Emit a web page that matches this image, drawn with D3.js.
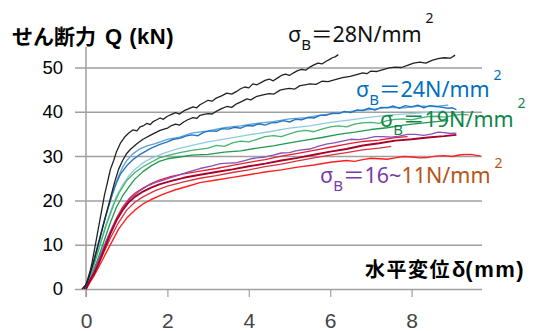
<!DOCTYPE html>
<html><head><meta charset="utf-8">
<script src="https://cdn.jsdelivr.net/npm/d3@7"></script>
<style>body{margin:0;background:#fff}svg{display:block}</style>
</head><body>
<svg id="c" width="537" height="331"></svg>
<script>
const xTicks=[0,2,4,6,8];
const yTicks=[0,10,20,30,40,50];
const yTitleParts=["せん断力","Q (kN)"];
const xTitleParts=["水平変位","δ","(mm)"];

const k1=[[-0.1,0],[0,1],[0.05,2.5],[0.1,4],[0.15,6],[0.2,8.5],[0.25,11],[0.3,13.5],[0.35,16],[0.4,18.5],[0.45,21],[0.5,23],[0.55,25],[0.6,27],[0.68,29],[0.75,31],[0.85,33],[0.95,34.3],[1.05,35.2],[1.15,35.9],[1.25,35.7],[1.33,36.6],[1.42,36.9],[1.5,37.4],[1.58,37.1],[1.65,37.8],[1.74,38.2],[1.82,38.6],[1.9,38.3],[2.0,39],[2.1,39.4],[2.2,39.8],[2.3,39.5],[2.4,40.2],[2.5,40.6],[2.63,41.1],[2.72,40.9],[2.8,41.6],[2.9,42.1],[3.0,42.6],[3.1,42.4],[3.2,43.1],[3.33,43.6],[3.46,44.2],[3.58,44.0],[3.7,44.6],[3.8,45.2],[3.9,45.6],[4.0,45.4],[4.1,46.3],[4.2,46.1],[4.3,46.6],[4.4,47.1],[4.5,47.4],[4.6,47.0],[4.7,47.6],[4.8,48.2],[4.9,48.5],[5.0,48.2],[5.1,48.8],[5.2,49.3],[5.3,49.6],[5.4,49.4],[5.5,50.1],[5.6,50.6],[5.7,51],[5.8,50.8],[5.9,51.4],[6.0,51.9],[6.05,52.2],[6.12,52.4],[6.2,52.9]];
const k2=[[-0.05,0],[0.05,2],[0.1,3.5],[0.2,6.5],[0.3,10],[0.4,13.5],[0.5,17],[0.6,20.5],[0.7,24],[0.8,27],[0.9,29],[1.0,30.6],[1.1,31.6],[1.25,32.8],[1.4,33.8],[1.6,34.8],[1.82,35.8],[2.0,36.3],[2.1,36.9],[2.2,37.2],[2.3,37.0],[2.4,37.7],[2.5,38.2],[2.63,38.7],[2.72,38.5],[2.8,39.2],[2.9,39.4],[3.0,39.6],[3.1,39.5],[3.2,40.1],[3.33,40.7],[3.46,41.2],[3.58,41.0],[3.7,41.8],[3.82,42.3],[3.95,42.9],[4.05,42.7],[4.2,43.5],[4.35,43.8],[4.5,44.1],[4.62,44.0],[4.77,44.9],[4.88,45.1],[5.0,45.3],[5.12,45.1],[5.26,45.9],[5.38,46.1],[5.5,46.3],[5.65,46.2],[5.8,46.9],[5.95,46.8],[6.1,47.2],[6.3,47.7],[6.49,48],[6.65,48.4],[6.8,48.8],[6.9,48.6],[7.0,49.2],[7.15,49.1],[7.3,49.5],[7.45,49.9],[7.6,50.1],[7.75,50.0],[7.9,50.5],[8.05,51.0],[8.2,51.2],[8.35,51.0],[8.5,51.6],[8.65,52.0],[8.8,52.2],[8.95,52.1],[9.07,52.8]];
const b1=[[-0.05,0],[0.05,2],[0.15,5],[0.25,8.5],[0.35,12],[0.45,15.5],[0.55,18.5],[0.65,21.5],[0.75,24],[0.85,26],[1.0,27.8],[1.15,29.2],[1.3,30.2],[1.45,31],[1.6,31.8],[1.8,32.6],[2.0,33.2],[2.15,33.8],[2.3,34],[2.45,34.5],[2.6,34.8],[2.75,34.6],[2.9,35.4],[3.05,35.7],[3.2,35.6],[3.35,36.2],[3.5,36.1],[3.65,36.5],[3.8,36.3],[3.95,36.9],[4.1,36.8],[4.25,37.3],[4.4,37],[4.55,37.5],[4.7,37.6],[4.85,38.0],[5.0,37.7],[5.15,38.3],[5.3,38.2],[5.45,38.7],[5.6,38.6],[5.75,39.2],[5.9,39.2],[6.05,39.7],[6.2,39.6],[6.35,40.1],[6.5,39.8],[6.65,40.4],[6.8,40.3],[6.95,40.8],[7.1,40.4],[7.25,41.0],[7.4,40.9],[7.55,41.3],[7.7,40.8],[7.85,41.4],[8.0,41.1],[8.15,41.5],[8.3,40.9],[8.45,41.4],[8.6,41.2],[8.75,41.0],[8.9,40.8],[9.0,40.9],[9.1,40.5]];
const b2=[[0,0],[0.1,3],[0.2,6.5],[0.3,10],[0.4,13.5],[0.5,17],[0.6,20],[0.7,23],[0.8,25.5],[0.9,27.5],[1.0,29],[1.15,30.5],[1.3,31.5],[1.5,32.3],[1.7,32.8],[2.0,33.8],[2.3,34.3],[2.6,35.2],[3.0,35.7],[3.4,36.4],[3.8,36.8],[4.2,37.4],[4.6,37.8],[5.0,38.4],[5.4,38.7],[5.8,39.3],[6.2,39.7],[6.6,40.2],[7.0,40.5],[7.4,41],[7.8,40.9],[8.2,41.3],[8.6,41.2],[8.9,41.5]];
const c1=[[0,0],[0.15,4],[0.3,9],[0.45,13.5],[0.6,17.5],[0.75,21],[0.9,23.5],[1.05,25.5],[1.2,27],[1.4,28.5],[1.6,29.5],[1.9,30.6],[2.2,31.5],[2.6,32.4],[3.0,33.2],[3.5,34],[4.0,34.8],[4.5,35.5],[5.0,36.3],[5.5,36.8],[6.0,37.6],[6.5,38.2],[7.0,38.8],[7.5,39.3],[8.0,39.6],[8.5,40],[8.8,40.2]];
const g1=[[0,0],[0.1,2.5],[0.2,5.5],[0.3,8.5],[0.4,11.5],[0.5,14.5],[0.6,17],[0.7,19.5],[0.8,21.5],[0.9,23],[1.0,24.5],[1.2,26.3],[1.4,27.6],[1.6,28.6],[1.8,29.6],[2.0,30.1],[2.3,30.8],[2.6,31.3],[3.0,31.8],[3.2,32.4],[3.4,32.2],[3.6,33.0],[3.8,33.4],[4.0,33.2],[4.2,33.8],[4.4,34.4],[4.6,34.6],[4.8,34.4],[5.0,35],[5.2,35.6],[5.4,35.8],[5.6,35.5],[5.8,36.1],[6.0,36.6],[6.2,36.8],[6.4,36.6],[6.6,37.2],[6.8,37.5],[7.0,37.6],[7.2,37.4],[7.4,38],[7.6,38.3],[7.8,38.4],[8.0,38.2],[8.2,38.6],[8.4,38.9],[8.6,39],[8.8,38.8],[9.0,39.1],[9.2,39.4],[9.4,39.3]];
const g2=[[0,0],[0.1,2],[0.2,4.5],[0.3,7],[0.45,11],[0.6,15],[0.75,18.5],[0.9,21],[1.05,23],[1.2,24.8],[1.4,26.5],[1.6,27.8],[1.8,28.8],[2.0,29.4],[2.3,29.8],[2.6,30.2],[3.0,30.4],[3.4,30.9],[3.8,31.2],[4.2,31.8],[4.6,32.3],[5.0,33],[5.4,33.6],[5.8,34.2],[6.2,34.9],[6.6,35.4],[7.0,36],[7.4,36.4],[7.8,37],[8.2,37.4],[8.6,37.8],[8.9,38]];
const p1=[[0,0],[0.1,2],[0.2,4],[0.35,7.5],[0.5,11],[0.65,14],[0.8,16.5],[0.95,18.8],[1.1,20.5],[1.3,22],[1.5,23.2],[1.7,24],[1.9,24.6],[2.2,25.5],[2.5,26.4],[2.8,27.2],[3.1,27.8],[3.3,28.3],[3.5,28.4],[3.7,28.5],[3.9,29],[4.05,29.4],[4.2,29.6],[4.4,29.8],[4.6,30.2],[4.8,30.7],[5.0,30.8],[5.15,31.2],[5.3,31.4],[5.5,31.6],[5.7,32.2],[5.9,32.7],[6.1,33],[6.3,33.4],[6.5,33.8],[6.7,33.7],[6.9,34],[7.1,34.4],[7.3,34.4],[7.5,34.3],[7.7,34.5],[7.9,34.9],[8.1,34.9],[8.3,34.7],[8.5,35],[8.65,35.4],[8.8,35.3],[8.95,35.1],[9.1,35.2]];
const r1=[[0,0],[0.1,2],[0.2,3.5],[0.3,5.5],[0.45,9],[0.6,12.5],[0.75,15.5],[0.9,17.8],[1.05,19.6],[1.2,20.8],[1.4,22],[1.6,22.9],[1.8,23.6],[2.1,24.4],[2.4,25.1],[2.8,25.8],[3.2,26.4],[3.6,27],[4.0,27.7],[4.4,28.3],[4.8,29],[5.2,29.6],[5.6,30.3],[6.0,31],[6.4,31.6],[6.8,32.4],[7.2,32.9],[7.6,33.5],[8.0,33.8],[8.4,34.2],[8.8,34.5],[9.1,34.8]];
const r2=[[0,0],[0.15,3],[0.3,6],[0.45,9.5],[0.6,13],[0.75,16],[0.9,18.5],[1.05,20.3],[1.2,21.6],[1.4,22.8],[1.6,23.8],[1.8,24.6],[2.1,25.4],[2.4,26],[2.8,26.6],[3.2,27.2],[3.6,27.9],[4.0,28.6],[4.4,29.2],[4.8,30],[5.2,30.6],[5.6,31.3],[6.0,32],[6.4,32.7],[6.8,33.3],[7.2,33.6],[7.6,34.2],[7.9,34.4]];
const r3=[[0,0],[0.2,3.5],[0.4,7.5],[0.6,11.5],[0.8,15],[1.0,17.8],[1.2,19.6],[1.4,20.8],[1.7,22.2],[2.0,23.2],[2.4,24.2],[2.8,25],[3.2,25.6],[3.6,26.3],[4.0,26.9],[4.4,27.6],[4.8,28.2],[5.2,28.9],[5.6,29.6],[6.0,30.2],[6.4,30.8],[6.8,31.4],[7.2,31.8],[7.5,32.2]];
const r4=[[0,0],[0.2,3],[0.4,6.5],[0.6,10],[0.8,13.5],[1.0,16],[1.2,17.8],[1.4,19.2],[1.6,20.2],[1.9,21.4],[2.2,22.4],[2.5,23.2],[2.8,24],[3.2,24.6],[3.6,25.2],[4.0,25.8],[4.4,26.4],[4.8,26.9],[5.2,27.5],[5.6,28],[6.0,28.6],[6.4,29],[6.6,28.8],[6.8,29.2],[7.0,29.5],[7.2,29.4],[7.4,29.3],[7.6,29.6],[7.8,29.9],[8.0,29.8],[8.2,29.6],[8.4,29.7],[8.6,30.0],[8.8,30.1],[9.0,29.9],[9.2,30.3],[9.45,30.4],[9.7,30]];

const seriesList=[
  {d:c1,c:"#8fcbe0",w:1.3},{d:g2,c:"#1f9a50",w:1.3},{d:g1,c:"#45b46a",w:1.3},
  {d:b2,c:"#5a9fd6",w:1.3},{d:b1,c:"#2076c2",w:1.4},
  {d:r4,c:"#ff1f1f",w:1.4},{d:r3,c:"#d83040",w:1.3},{d:r2,c:"#e8202e",w:1.3},{d:p1,c:"#8a4fb8",w:1.3},{d:r1,c:"#a8002a",w:1.9},
  {d:k2,c:"#222",w:1.3},{d:k1,c:"#222",w:1.3}
];

const svg=d3.select("#c");
svg.append("rect").attr("width",537).attr("height",331).attr("fill","#fff");
const x=d3.scaleLinear().domain([0,10]).range([86,493]);
const y=d3.scaleLinear().domain([0,50]).range([289,67.5]);
const gridL=75, gridR=482;

const ya=svg.append("g").attr("transform",`translate(${gridL},0)`)
  .call(d3.axisLeft(y).tickValues(yTicks).tickSize(-(gridR-gridL)).tickPadding(12));
ya.select(".domain").remove();
ya.selectAll(".tick line").attr("stroke","#a0a0a0").attr("stroke-width",1.5);
ya.selectAll(".tick text").attr("font-family","Liberation Sans, Arial, sans-serif").attr("font-size",18.5).attr("fill","#000");

const xa=svg.append("g").attr("transform","translate(0,289)")
  .call(d3.axisBottom(x).tickValues(xTicks).tickSize(8));
xa.select(".domain").remove();
xa.selectAll(".tick line").attr("stroke","#a0a0a0").attr("stroke-width",1.2);
xa.selectAll(".tick text").attr("y",39).attr("dy",0).attr("font-family","Liberation Sans, Arial, sans-serif").attr("font-size",21).attr("fill","#444");

svg.append("line").attr("x1",x(0)).attr("x2",x(0)).attr("y1",47).attr("y2",297).attr("stroke","#a0a0a0").attr("stroke-width",1.5);

const line=d3.line().x(d=>x(d[0])).y(d=>y(d[1]));
svg.append("g").selectAll("path").data(seriesList).join("path")
  .attr("d",s=>line(s.d)).attr("fill","none").attr("stroke",s=>s.c).attr("stroke-width",s=>s.w).attr("stroke-linejoin","round");

const tFont="Liberation Sans, Noto Sans CJK JP, sans-serif";
const yt=svg.append("text").attr("x",12).attr("y",44).attr("font-family",tFont).attr("font-weight","bold").attr("fill","#000");
yt.append("tspan").attr("font-size",21).text(yTitleParts[0]);
yt.append("tspan").attr("font-size",22).attr("dx",9).attr("letter-spacing",0.5).text(yTitleParts[1]);

const xt=svg.append("text").attr("x",365).attr("y",277).attr("font-family",tFont).attr("font-weight","bold").attr("fill","#000");
xt.append("tspan").attr("font-size",20).attr("letter-spacing",1.5).text(xTitleParts[0]);
xt.append("tspan").attr("font-size",22).attr("dx",1).text(xTitleParts[1]);
xt.append("tspan").attr("font-size",22).attr("letter-spacing",1.5).text(xTitleParts[2]);

const legFont="Noto Sans, Noto Sans CJK JP, sans-serif";
function legend(px,py,parts){
  const t=svg.append("text").attr("x",px).attr("y",py).attr("font-family",legFont).attr("font-size",21.5);
  parts.forEach(p=>{
    const ts=t.append("tspan").attr("fill",p.c).text(p.t);
    if(p.sub){ts.attr("font-size",15).attr("dy",8);}
    if(p.back){ts.attr("dy",-8);}
    if(p.sup){ts.attr("font-size",14).attr("dy",p.sup).attr("dx",4);}
  });
}
legend(288,42,[{t:"σ",c:"#111"},{t:"B",c:"#111",sub:1},{t:"＝28N/mm",c:"#111",back:1},{t:"2",c:"#111",sup:-19}]);
legend(356,97,[{t:"σ",c:"#0070c0"},{t:"B",c:"#0070c0",sub:1},{t:"＝24N/mm",c:"#0070c0",back:1},{t:"2",c:"#0070c0",sup:-17}]);
legend(380,127,[{t:"σ",c:"#10864a"},{t:"B",c:"#10864a",sub:1},{t:"＝19N/mm",c:"#10864a",back:1},{t:"2",c:"#10864a",sup:-19}]);
legend(320,183,[{t:"σ",c:"#7a3aaa"},{t:"B",c:"#7a3aaa",sub:1},{t:"＝16~",c:"#7a3aaa",back:1},{t:"11N/mm",c:"#b85414"},{t:"2",c:"#b85414",sup:-15}]);
</script>
</body></html>
